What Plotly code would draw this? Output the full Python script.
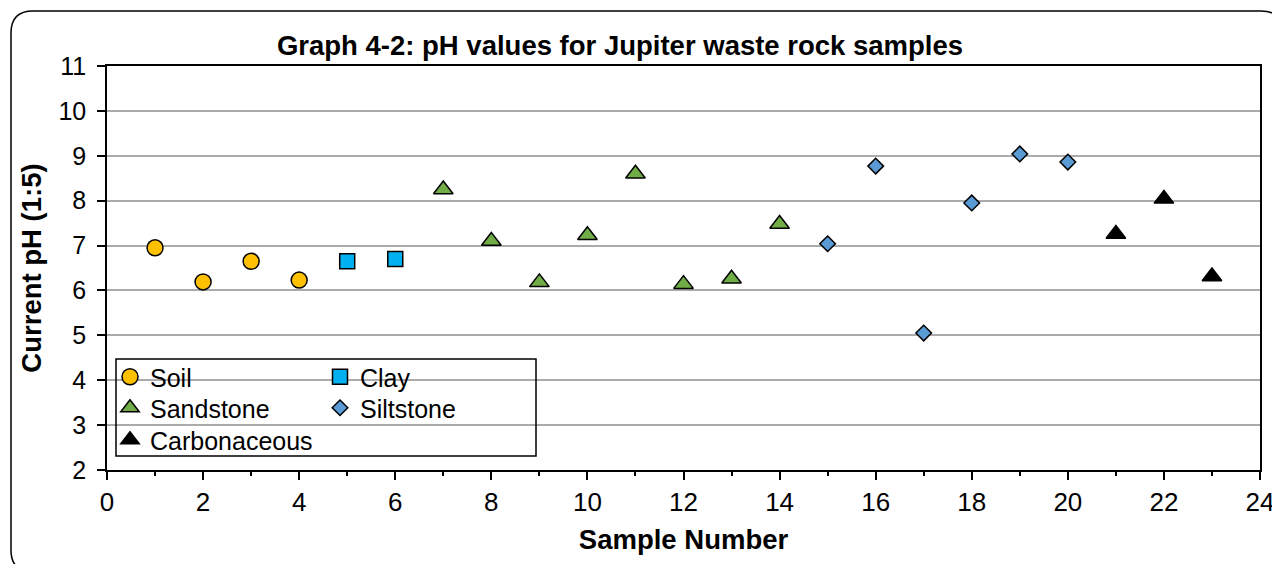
import plotly.graph_objects as go

# sample numbers and pH readings per rock type
soil_x = [1, 2, 3, 4]
soil_ph = [6.95, 6.19, 6.65, 6.23]
clay_x = [5, 6]
clay_ph = [6.65, 6.7]
sand_x = [7, 8, 9, 10, 11, 12, 13, 14]
sand_ph = [8.25, 7.1, 6.18, 7.23, 8.6, 6.14, 6.26, 7.48]
silt_x = [15, 16, 17, 18, 19, 20]
silt_ph = [7.04, 8.77, 5.05, 7.95, 9.04, 8.86]
carb_x = [21, 22, 23]
carb_ph = [7.26, 8.04, 6.31]

# the page body adds an 8px margin, so the figure is drawn a bit smaller
OFF = 8
W, H = 1280 - OFF, 564 - OFF
L, R, T, B = 107 - OFF, 20, 66 - OFF, 102 - OFF
pw, ph = W - L - R, H - T - B


def px(x):
    return (x - OFF - L) / pw


def py(y):
    return (H - B - (y - OFF)) / ph


font = "Arial, Liberation Sans, sans-serif"
edge = dict(color="black", width=1.5)

fig = go.Figure()
fig.add_trace(go.Scatter(x=soil_x, y=soil_ph, mode="markers", name="Soil", legend="legend",
                         marker=dict(symbol="circle", size=16, color="#FFC000", line=edge)))
fig.add_trace(go.Scatter(x=clay_x, y=clay_ph, mode="markers", name="Clay", legend="legend2",
                         marker=dict(symbol="square", size=15, color="#00B0F0", line=edge)))
fig.add_trace(go.Scatter(x=sand_x, y=sand_ph, mode="markers", name="Sandstone", legend="legend3",
                         marker=dict(symbol="triangle-up", size=17, color="#70AD47", line=edge)))
fig.add_trace(go.Scatter(x=silt_x, y=silt_ph, mode="markers", name="Siltstone", legend="legend4",
                         marker=dict(symbol="diamond", size=12, color="#5B9BD5", line=edge)))
fig.add_trace(go.Scatter(x=carb_x, y=carb_ph, mode="markers", name="Carbonaceous", legend="legend5",
                         marker=dict(symbol="triangle-up", size=17, color="black", line=edge)))

leg = dict(font=dict(family=font, size=25, color="black"), bgcolor="rgba(0,0,0,0)",
           borderwidth=0, xanchor="left", yanchor="middle", itemwidth=30, visible=True)

# outer rounded frame
r = 22
x0, y0, x1, y1 = 11, 11, 1283, 572
frame = (f"M {px(x0)},{py(y1 - r)} L {px(x0)},{py(y0 + r)} "
         f"Q {px(x0)},{py(y0)} {px(x0 + r)},{py(y0)} L {px(x1 - r)},{py(y0)} "
         f"Q {px(x1)},{py(y0)} {px(x1)},{py(y0 + r)} L {px(x1)},{py(y1 - r)} "
         f"Q {px(x1)},{py(y1)} {px(x1 - r)},{py(y1)} L {px(x0 + r)},{py(y1)} "
         f"Q {px(x0)},{py(y1)} {px(x0)},{py(y1 - r)} Z")

fig.update_layout(
    width=W, height=H,
    margin=dict(l=L, r=R, t=T, b=B),
    paper_bgcolor="white", plot_bgcolor="white",
    showlegend=True,
    font=dict(family=font, color="black"),
    title=dict(text="<b>Graph 4-2: pH values for Jupiter waste rock samples</b>",
               x=px(620), xref="paper", xanchor="center", y=1 - (45 - OFF) / H, yanchor="middle",
               font=dict(size=27.5, family=font, color="black")),
    legend=dict(leg, x=px(110), y=py(377)),
    legend2=dict(leg, x=px(320), y=py(377)),
    legend3=dict(leg, x=px(110), y=py(408)),
    legend4=dict(leg, x=px(320), y=py(408)),
    legend5=dict(leg, x=px(110), y=py(440)),
    shapes=[
        dict(type="rect", xref="paper", yref="paper", x0=px(116), x1=px(536), y0=py(456), y1=py(359),
             line=dict(color="black", width=1.5), fillcolor="rgba(0,0,0,0)"),
        dict(type="path", xref="paper", yref="paper", path=frame,
             line=dict(color="black", width=1.5), layer="below"),
    ],
)

fig.update_xaxes(range=[0, 24], dtick=2, tick0=0, showgrid=False, zeroline=False, automargin=False,
                 showline=True, linecolor="black", linewidth=1.5, mirror=True,
                 ticks="outside", ticklen=8, tickcolor="black", tickwidth=1.5,
                 minor=dict(dtick=1, ticks="outside", ticklen=4, tickcolor="black", tickwidth=1.5),
                 tickfont=dict(size=26, family=font),
                 title=dict(text="<b>Sample Number</b>", font=dict(size=27.5, family=font), standoff=14))
fig.update_yaxes(range=[2, 11], dtick=1, tick0=2, showgrid=True, gridcolor="#ABABAB", gridwidth=1.5,
                 zeroline=False, automargin=False, showline=True, linecolor="black", linewidth=1.5,
                 mirror=True, ticks="outside", ticklen=8, tickcolor="black", tickwidth=1.5,
                 ticklabelstandoff=6, tickfont=dict(size=25, family=font),
                 title=dict(text="<b>Current pH (1:5)</b>", font=dict(size=27.5, family=font), standoff=9))

fig.write_html("out.html")
